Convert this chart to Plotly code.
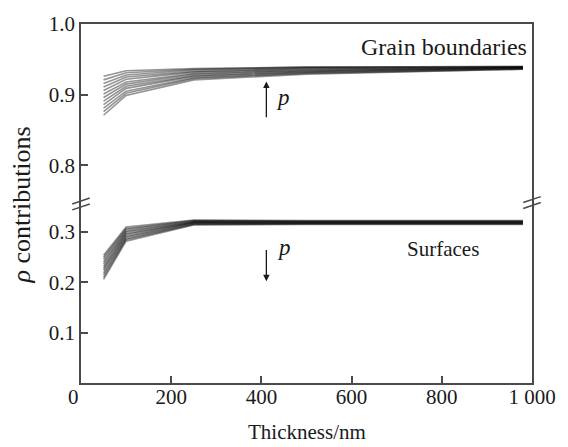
import plotly.graph_objects as go

# ---- data ----
thickness = [50, 100, 250, 500, 980]

# Grain-boundary contributions, 12 curves (bottom -> top)
grain = [
    [0.871, 0.899, 0.921, 0.929, 0.936],
    [0.876, 0.902, 0.923, 0.930, 0.936],
    [0.881, 0.905, 0.924, 0.931, 0.937],
    [0.886, 0.909, 0.926, 0.932, 0.937],
    [0.891, 0.912, 0.927, 0.933, 0.938],
    [0.896, 0.915, 0.929, 0.934, 0.938],
    [0.901, 0.918, 0.930, 0.935, 0.938],
    [0.906, 0.922, 0.932, 0.936, 0.939],
    [0.911, 0.925, 0.933, 0.937, 0.939],
    [0.916, 0.928, 0.935, 0.938, 0.939],
    [0.921, 0.931, 0.936, 0.939, 0.940],
    [0.926, 0.934, 0.937, 0.939, 0.940],
]

# Surface contributions, 12 curves (bottom -> top)
surface = [
    [0.206, 0.282, 0.314, 0.315, 0.315],
    [0.210, 0.285, 0.315, 0.316, 0.316],
    [0.215, 0.287, 0.316, 0.317, 0.317],
    [0.219, 0.290, 0.317, 0.317, 0.317],
    [0.224, 0.292, 0.318, 0.318, 0.318],
    [0.228, 0.295, 0.319, 0.319, 0.319],
    [0.232, 0.297, 0.319, 0.319, 0.319],
    [0.237, 0.300, 0.320, 0.320, 0.320],
    [0.241, 0.302, 0.321, 0.321, 0.321],
    [0.246, 0.305, 0.322, 0.321, 0.321],
    [0.250, 0.307, 0.323, 0.322, 0.322],
    [0.254, 0.310, 0.324, 0.323, 0.323],
]

x_ticks = [200, 400, 600, 800, 1000]
x_tick_text = ["200", "400", "600", "800", "1 000"]
upper_ticks = [0.8, 0.9, 1.0]
upper_tick_text = ["0.8", "0.9", "1.0"]
lower_ticks = [0.1, 0.2, 0.3]
lower_tick_text = ["0.1", "0.2", "0.3"]

FONT = "Liberation Serif"
AX = "#4a4a4a"
TXT = "#1a1a1a"
LINE = "rgba(0,0,0,0.42)"
LW = 1.6

fig = go.Figure()
for ys in grain:
    fig.add_trace(go.Scatter(x=thickness, y=ys, mode="lines", xaxis="x2", yaxis="y2",
                             line=dict(color=LINE, width=LW), showlegend=False, hoverinfo="skip"))
for ys in surface:
    fig.add_trace(go.Scatter(x=thickness, y=ys, mode="lines", xaxis="x", yaxis="y",
                             line=dict(color=LINE, width=LW), showlegend=False, hoverinfo="skip"))

tickfont = dict(family=FONT, size=21, color=TXT)
fig.update_layout(
    width=568, height=447,
    margin=dict(l=81, r=25, t=19, b=64),
    paper_bgcolor="white", plot_bgcolor="white",
    font=dict(family=FONT, size=21, color=TXT),
    xaxis=dict(domain=[0, 1], range=[0, 1000], anchor="y",
               showline=True, linecolor=AX, linewidth=1.5,
               ticks="inside", ticklen=7, tickcolor=AX, tickwidth=1.5,
               tickvals=x_ticks, ticktext=x_tick_text, tickfont=tickfont,
               ticklabelstandoff=-6,
               showgrid=False, zeroline=False),
    xaxis2=dict(domain=[0, 1], range=[0, 1000], anchor="y2", side="top", matches="x",
                showline=True, linecolor=AX, linewidth=1.5, ticks="",
                showticklabels=False, showgrid=False, zeroline=False),
    yaxis=dict(domain=[0, 0.5], range=[0, 0.3568], anchor="x",
               showline=True, mirror=True, linecolor=AX, linewidth=1.5,
               ticks="inside", ticklen=7, tickcolor=AX, tickwidth=1.5,
               tickvals=lower_ticks, ticktext=lower_tick_text, tickfont=tickfont,
               ticklabelstandoff=0,
               showgrid=False, zeroline=False),
    yaxis2=dict(domain=[0.5, 1], range=[0.7462, 1.0], anchor="x2",
                showline=True, mirror=True, linecolor=AX, linewidth=1.5,
                ticks="inside", ticklen=7, tickcolor=AX, tickwidth=1.5,
                tickvals=upper_ticks, ticktext=upper_tick_text, tickfont=tickfont,
                ticklabelstandoff=0,
                showgrid=False, zeroline=False),
)

ann = []
# labels inside the plot
ann.append(dict(x=993, y=0.968, xref="x2", yref="y2", text="Grain boundaries",
                showarrow=False, xanchor="right", yanchor="middle",
                font=dict(family=FONT, size=24, color=TXT)))
ann.append(dict(x=886, y=0.2667, xref="x", yref="y", text="Surfaces",
                showarrow=False, xanchor="right", yanchor="middle",
                font=dict(family=FONT, size=21, color=TXT)))
# p arrows
ann.append(dict(x=411, y=0.9187, ax=411, ay=0.866, xref="x2", yref="y2",
                axref="x2", ayref="y2", text="", showarrow=True,
                arrowhead=2, arrowsize=1, arrowwidth=1.3, arrowcolor=TXT))
ann.append(dict(x=447, y=0.8967, xref="x2", yref="y2", text="<i>p</i>",
                showarrow=False, font=dict(family=FONT, size=23, color=TXT)))
ann.append(dict(x=411, y=0.2022, ax=411, ay=0.2673, xref="x", yref="y",
                axref="x", ayref="y", text="", showarrow=True,
                arrowhead=2, arrowsize=1, arrowwidth=1.3, arrowcolor=TXT))
ann.append(dict(x=451, y=0.2685, xref="x", yref="y", text="<i>p</i>",
                showarrow=False, font=dict(family=FONT, size=23, color=TXT)))
# shared origin label
ann.append(dict(x=-0.0166, y=-0.0385, xref="paper", yref="paper", text="0",
                showarrow=False, xanchor="center", yanchor="middle", font=tickfont))
# axis titles
ann.append(dict(x=0.5, y=-0.137, xref="paper", yref="paper", text="Thickness/nm",
                showarrow=False, xanchor="center", yanchor="middle",
                font=dict(family=FONT, size=21, color=TXT)))
ann.append(dict(x=-0.131, y=0.497, xref="paper", yref="paper",
                text="<i>ρ</i> contributions", textangle=-90,
                showarrow=False, xanchor="center", yanchor="middle",
                font=dict(family=FONT, size=26, color=TXT)))
fig.update_layout(annotations=ann)

# axis-break marks (paper coordinates)
def px_to_paper_y(py):
    return (383 - py) / 364.0

def px_to_paper_x(px):
    return (px - 81) / 462.0

shapes = []
for cx, cy in [(81, 198.5), (81, 204.5), (543, 197.0), (543, 203.0)]:
    shapes.append(dict(type="line", xref="paper", yref="paper",
                       x0=px_to_paper_x(cx - 9), y0=px_to_paper_y(cy + 3),
                       x1=px_to_paper_x(cx + 9), y1=px_to_paper_y(cy - 3),
                       line=dict(color=AX, width=1.5)))
fig.update_layout(shapes=shapes)

fig.write_html("out.html")
